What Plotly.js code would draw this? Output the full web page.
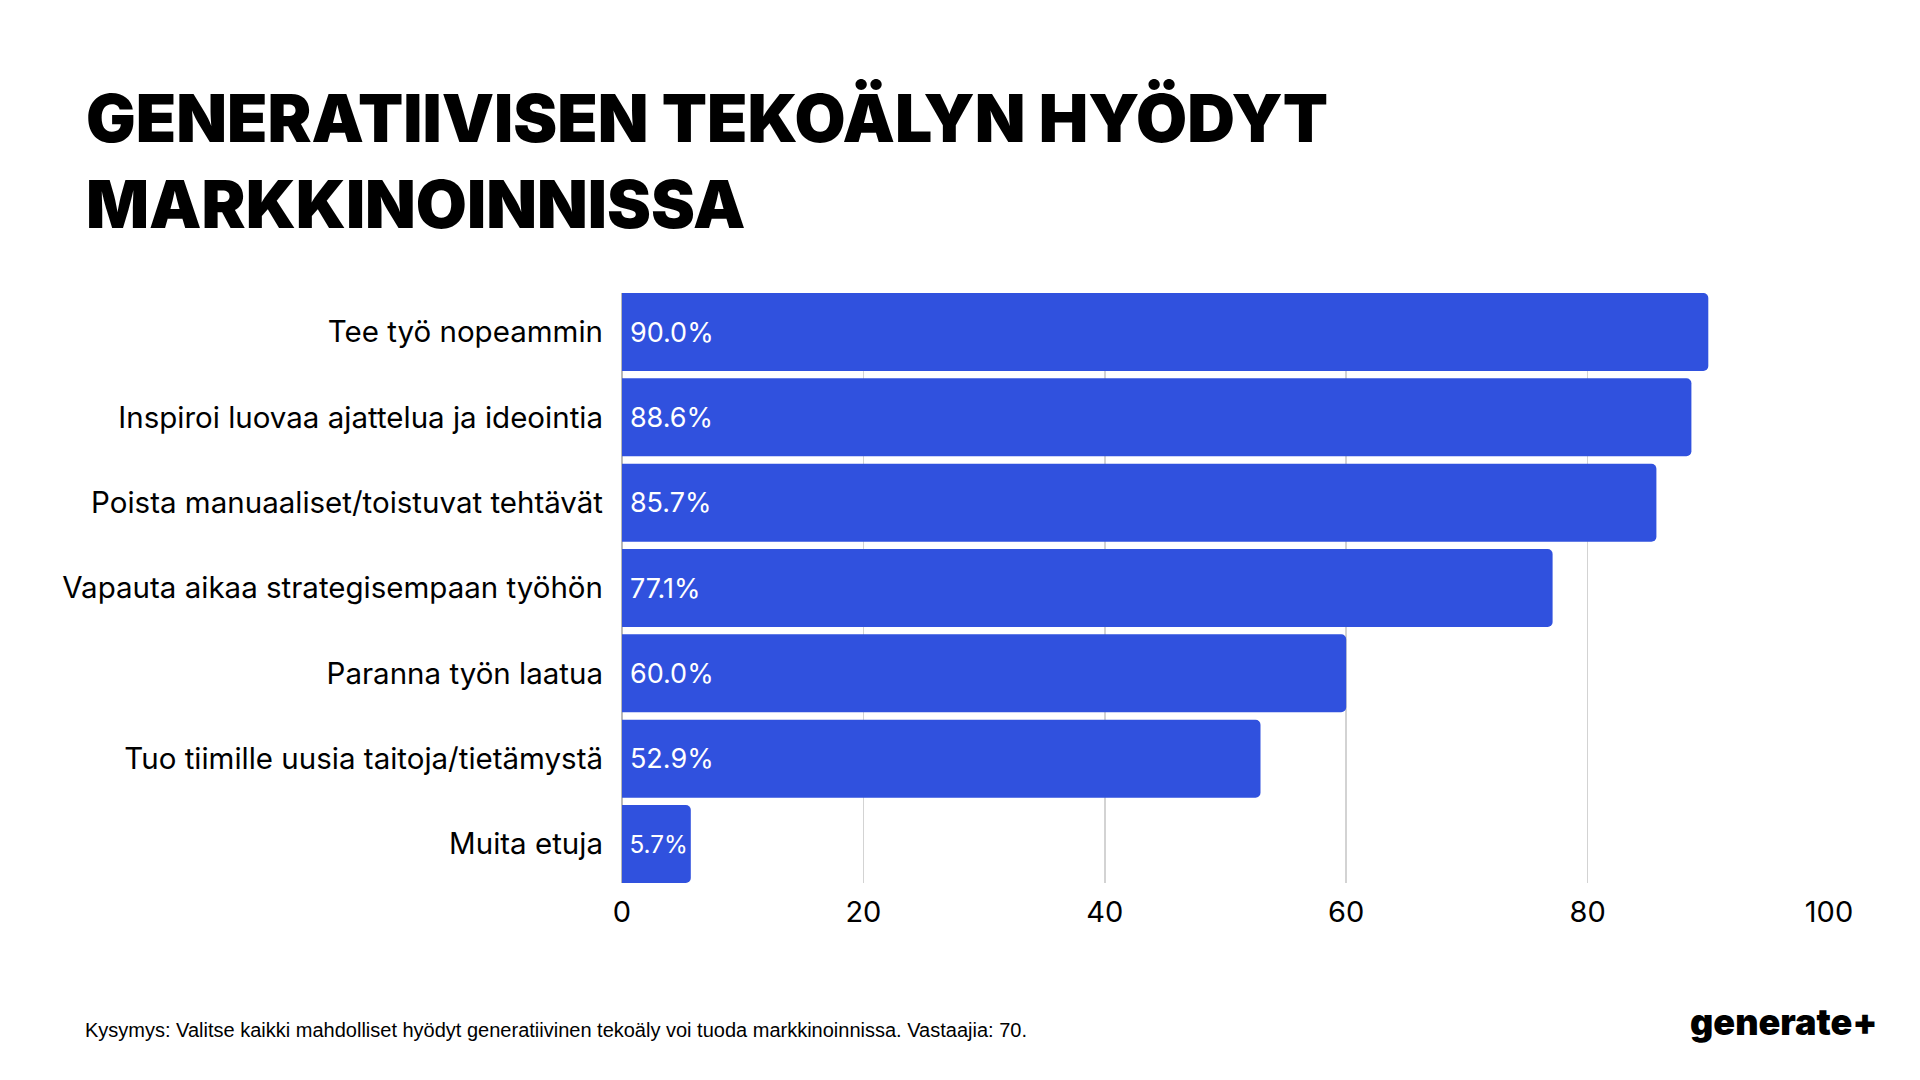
<!DOCTYPE html>
<html>
<head>
<meta charset="utf-8">
<script src="https://cdn.plot.ly/plotly-3.0.1.min.js"></script>
<style>
  html, body { margin: 0; padding: 0; background: #ffffff; }
  #chart { width: 1920px; height: 1080px; }
</style>
</head>
<body>
<div id="chart"></div>
<script>
const titleLines = ['GENERATIIVISEN TEKOÄLYN HYÖDYT', 'MARKKINOINNISSA'];
const categories = [
  'Tee työ nopeammin',
  'Inspiroi luovaa ajattelua ja ideointia',
  'Poista manuaaliset/toistuvat tehtävät',
  'Vapauta aikaa strategisempaan työhön',
  'Paranna työn laatua',
  'Tuo tiimille uusia taitoja/tietämystä',
  'Muita etuja'
];
const values = [90.0, 88.6, 85.7, 77.1, 60.0, 52.9, 5.7];
const xTicks = [0, 20, 40, 60, 80, 100];
const footnote = 'Kysymys: Valitse kaikki mahdolliset hyödyt generatiivinen tekoäly voi tuoda markkinoinnissa. Vastaajia: 70.';
const logoText = 'generate+';

const BAR_COLOR = '#3051DE';
const FONT = 'Inter, "Noto Sans", sans-serif';
const BARGAP = 0.086;
const half = (1 - BARGAP) / 2;

const trace = {
  type: 'bar',
  orientation: 'h',
  x: values,
  y: categories,
  marker: { color: BAR_COLOR, cornerradius: 5 },
  texttemplate: '\u2009%{x:.1f}%',
  textposition: 'inside',
  insidetextanchor: 'start',
  textangle: 0,
  insidetextfont: { family: FONT, size: 27, color: '#ffffff' },
  hoverinfo: 'skip',
  cliponaxis: false
};

const layout = {
  width: 1920,
  height: 1080,
  paper_bgcolor: '#ffffff',
  plot_bgcolor: '#ffffff',
  margin: { l: 622, r: 91, t: 293, b: 197, pad: 0 },
  bargap: BARGAP,
  showlegend: false,
  title: {
    text: titleLines.join('<br>'),
    x: 86 / 1920,
    xref: 'container',
    xanchor: 'left',
    y: 1 - 142 / 1080,
    yref: 'container',
    yanchor: 'top',
    font: { family: FONT, size: 66, color: '#000000', weight: 900 }
  },
  xaxis: {
    range: [0, 100],
    tickvals: xTicks,
    ticktext: xTicks.map(String),
    showgrid: true,
    gridcolor: '#d3d3d3',
    gridwidth: 1.5,
    zeroline: true,
    zerolinecolor: '#b8b8b8',
    zerolinewidth: 1.5,
    showline: false,
    ticks: '',
    ticklabelstandoff: 9,
    tickfont: { family: FONT, size: 29, color: '#000000' },
    fixedrange: true
  },
  yaxis: {
    type: 'category',
    range: [categories.length - 1 + half, -half],
    showgrid: false,
    zeroline: false,
    showline: false,
    ticks: '',
    ticklabelstandoff: 18,
    tickfont: { family: FONT, size: 29.5, color: '#000000' },
    fixedrange: true
  },
  annotations: [
    {
      text: footnote,
      xref: 'paper', yref: 'paper',
      x: (83 - 622) / 1207, y: -(1030 - 883) / 590,
      xanchor: 'left', yanchor: 'middle',
      showarrow: false,
      font: { family: '"Liberation Sans", Arial, sans-serif', size: 20, color: '#000000' }
    },
    {
      text: logoText,
      xref: 'paper', yref: 'paper',
      x: (1879 - 622) / 1207, y: -(1022 - 883) / 590,
      xanchor: 'right', yanchor: 'middle',
      showarrow: false,
      font: { family: FONT, size: 36, color: '#000000', weight: 900 }
    }
  ]
};

Plotly.newPlot('chart', [trace], layout, { displayModeBar: false, staticPlot: true });
</script>
</body>
</html>
